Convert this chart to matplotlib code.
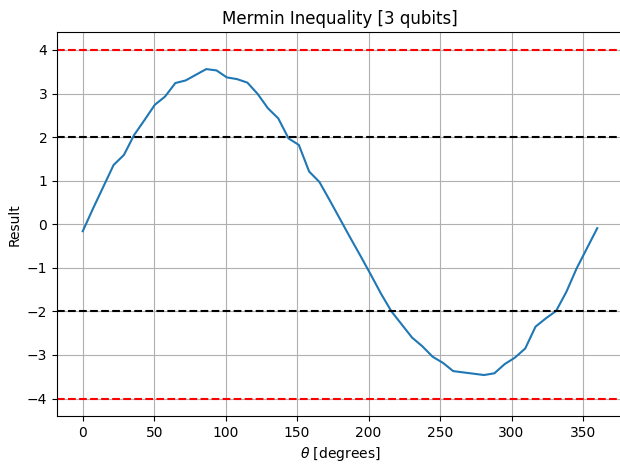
import numpy as np
import matplotlib
matplotlib.use("Agg")
import matplotlib.pyplot as plt

# angles sampled every 7.2 degrees (51 points from 0 to 360)
theta = np.linspace(0, 360, 51)

result = [
    -0.16, 0.36, 0.86, 1.36, 1.59, 2.05, 2.39, 2.74, 2.93, 3.24,
    3.30, 3.43, 3.56, 3.53, 3.37, 3.33, 3.25, 2.99, 2.66, 2.43,
    1.97, 1.82, 1.21, 0.97, 0.55, 0.12, -0.31, -0.73, -1.16, -1.60,
    -2.00, -2.30, -2.60, -2.80, -3.04, -3.18, -3.37, -3.40, -3.43, -3.46,
    -3.42, -3.21, -3.06, -2.85, -2.35, -2.16, -1.99, -1.55, -1.01, -0.55,
    -0.09,
]

classical_bound = 2
quantum_bound = 4

fig = plt.figure(figsize=(6.2, 4.69), dpi=100)
ax = fig.add_axes([57 / 620, 1 - 416 / 469, 566 / 620, 383.5 / 469])

ax.plot(theta, result)
ax.axhline(quantum_bound, color='r', linestyle='--')
ax.axhline(-quantum_bound, color='r', linestyle='--')
ax.axhline(classical_bound, color='k', linestyle='--')
ax.axhline(-classical_bound, color='k', linestyle='--')

ax.set_title('Mermin Inequality [3 qubits]')
ax.set_xlabel(r'$\theta$ [degrees]')
ax.set_ylabel('Result')
ax.grid(True)

fig.savefig('out.png', dpi=100)
